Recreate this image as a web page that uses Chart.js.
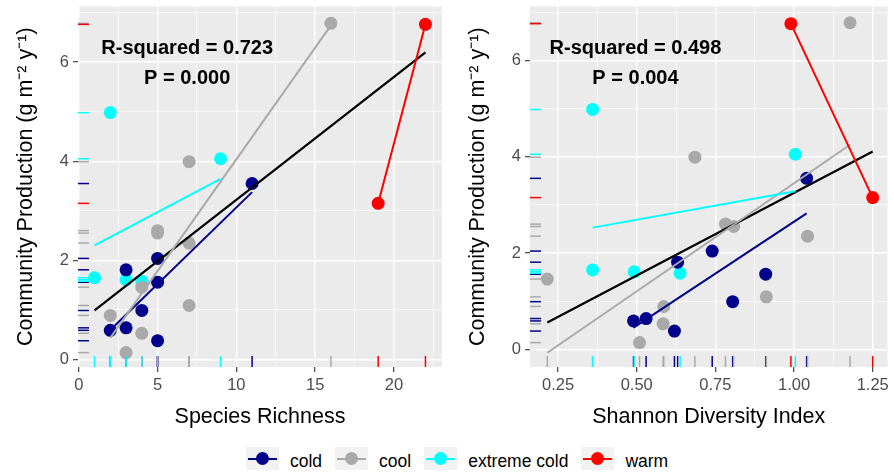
<!DOCTYPE html>
<html><head><meta charset="utf-8">
<script src="https://cdn.jsdelivr.net/npm/chart.js@4"></script>
<style>
html,body{margin:0;padding:0;background:#fff;}
#wrap{position:relative;width:894px;height:475px;overflow:hidden;font-family:'Liberation Sans',Arial,sans-serif;}
#left{position:absolute;left:0;top:0;width:450px;height:440px;}
#right{position:absolute;left:450px;top:0;width:444px;height:440px;}
#legend{position:absolute;left:246px;top:447px;display:flex;align-items:center;height:23px;}
.key{position:relative;width:33px;height:23px;background:#F2F2F2;margin-right:11px;flex:none;}
.key .ln{position:absolute;left:2px;right:2px;top:11px;height:2px;}
.key .pt{position:absolute;left:10px;top:5px;width:13px;height:13px;border-radius:50%;}
.lab{font-size:17.5px;color:#000;margin-right:13px;white-space:nowrap;position:relative;top:3px;}
</style></head>
<body>
<div id="wrap">
  <div id="left"><canvas id="c1"></canvas></div>
  <div id="right"><canvas id="c2"></canvas></div>
  <div id="legend"></div>
</div>
<script>
// ---------------- data ----------------
const groupNames = ['cold', 'cool', 'extreme cold', 'warm'];

const coldRichness   = [11, 5, 3, 5, 4, 3, 2, 5];
const coldShannon    = [1.04, 0.74, 0.63, 0.91, 0.805, 0.53, 0.49, 0.62];
const coldProduction = [3.55, 2.04, 1.81, 1.56, 0.99, 0.64, 0.59, 0.38];

const coolRichness   = [16, 7, 5, 5, 7, 4, 7, 2, 4, 3];
const coolShannon    = [1.178, 0.685, 0.782, 0.808, 1.043, 0.216, 0.912, 0.586, 0.584, 0.509];
const coolProduction = [6.78, 3.99, 2.6, 2.55, 2.35, 1.46, 1.09, 0.89, 0.53, 0.14];

const extremeColdRichness   = [2, 9, 1, 3, 4];
const extremeColdShannon    = [0.36, 1.004, 0.36, 0.492, 0.638];
const extremeColdProduction = [4.98, 4.05, 1.65, 1.61, 1.58];

const warmRichness   = [19, 22];
const warmShannon    = [1.25, 0.99];
const warmProduction = [3.15, 6.76];

const richnessTicks = [0, 5, 10, 15, 20];
const shannonTicks  = [0.25, 0.50, 0.75, 1.00, 1.25];
const productionTicks = [0, 2, 4, 6];

const statsRichness = ['R-squared = 0.723', 'P = 0.000'];
const statsShannon  = ['R-squared = 0.498', 'P = 0.004'];

const xTitleRichness = 'Species Richness';
const xTitleShannon  = 'Shannon Diversity Index';
const yTitle = 'Community Production (g m\u207B\u00B2 y\u207B\u00B9)';

// ---------------- styles ----------------
const groupColors = ['#00008B', '#A9A9A9', '#00FFFF', '#FF0000'];
const FONT = "'Liberation Sans', Arial, sans-serif";

const groupsRichness = [
  {x: coldRichness, y: coldProduction},
  {x: coolRichness, y: coolProduction},
  {x: extremeColdRichness, y: extremeColdProduction},
  {x: warmRichness, y: warmProduction}
];
const groupsShannon = [
  {x: coldShannon, y: coldProduction},
  {x: coolShannon, y: coolProduction},
  {x: extremeColdShannon, y: extremeColdProduction},
  {x: warmShannon, y: warmProduction}
];

function lmLine(xs, ys) {
  const n = xs.length;
  const mx = xs.reduce((a, b) => a + b, 0) / n;
  const my = ys.reduce((a, b) => a + b, 0) / n;
  let sxy = 0, sxx = 0;
  for (let i = 0; i < n; i++) { sxy += (xs[i] - mx) * (ys[i] - my); sxx += (xs[i] - mx) ** 2; }
  const b = sxy / sxx, a = my - b * mx;
  const x0 = Math.min(...xs), x1 = Math.max(...xs);
  return [{x: x0, y: a + b * x0}, {x: x1, y: a + b * x1}];
}

function buildDatasets(groups) {
  const ds = [];
  groups.forEach((g, i) => {
    ds.push({
      type: 'scatter', label: groupNames[i],
      data: g.x.map((v, k) => ({x: v, y: g.y[k]})),
      backgroundColor: groupColors[i], borderWidth: 0,
      pointRadius: 6.5, pointHoverRadius: 6.5, order: 10
    });
  });
  const allX = [].concat(...groups.map(g => g.x));
  const allY = [].concat(...groups.map(g => g.y));
  ds.push({
    type: 'scatter', label: 'all', data: lmLine(allX, allY), showLine: true,
    borderColor: '#000000', borderWidth: 2.2, pointRadius: 0, order: 6
  });
  groups.forEach((g, i) => {
    ds.push({
      type: 'scatter', label: groupNames[i] + ' fit', data: lmLine(g.x, g.y), showLine: true,
      borderColor: groupColors[i], borderWidth: 2, pointRadius: 0, order: 5 - i
    });
  });
  return ds;
}

const bgPlugin = {
  id: 'bg',
  beforeDraw(chart) {
    const {ctx, chartArea: a} = chart;
    ctx.save(); ctx.fillStyle = '#EBEBEB';
    ctx.fillRect(a.left, a.top, a.right - a.left, a.bottom - a.top);
    ctx.restore();
  }
};

function rugPlugin(groups) {
  return {
    id: 'rug',
    afterDatasetsDraw(chart) {
      const {ctx, chartArea: a, scales} = chart;
      ctx.save(); ctx.lineWidth = 1.5;
      groups.forEach((g, i) => {
        ctx.strokeStyle = groupColors[i];
        g.x.forEach(v => {
          const px = scales.x.getPixelForValue(v);
          ctx.beginPath(); ctx.moveTo(px, a.bottom); ctx.lineTo(px, a.bottom - 11); ctx.stroke();
        });
        g.y.forEach(v => {
          const py = scales.y.getPixelForValue(v);
          ctx.beginPath(); ctx.moveTo(a.left, py); ctx.lineTo(a.left + 11, py); ctx.stroke();
        });
      });
      ctx.restore();
    }
  };
}

function textPlugin(lines, fx, fy) {
  return {
    id: 'stats',
    afterDraw(chart) {
      const {ctx, chartArea: a} = chart;
      ctx.save();
      ctx.font = 'bold 20px ' + FONT;
      ctx.fillStyle = '#000'; ctx.textAlign = 'center'; ctx.textBaseline = 'middle';
      const cx = a.left + fx * (a.right - a.left);
      lines.forEach((t, i) => ctx.fillText(t, cx, a.top + fy + i * 30));
      ctx.restore();
    }
  };
}

function makeChart(id, groups, cfg) {
  const isMajorX = v => cfg.xMajor.some(m => Math.abs(m - v) < 1e-9);
  const isMajorY = v => productionTicks.some(m => Math.abs(m - v) < 1e-9);
  return new Chart(document.getElementById(id), {
    type: 'scatter',
    data: {datasets: buildDatasets(groups)},
    options: {
      responsive: true, maintainAspectRatio: false, animation: false, events: [],
      layout: {padding: {left: 0, right: cfg.padRight, top: 5, bottom: 0}},
      plugins: {legend: {display: false}, tooltip: {enabled: false}},
      scales: {
        x: {
          type: 'linear', min: cfg.xMin, max: cfg.xMax,
          afterBuildTicks: s => { s.ticks = cfg.xMajor.concat(cfg.xMinor).sort((a, b) => a - b).map(v => ({value: v})); },
          afterFit: s => { s.height = 73; s.paddingLeft = 0; s.paddingRight = 0; },
          border: {display: false},
          grid: {
            color: '#FFFFFF',
            lineWidth: c => isMajorX(c.tick.value) ? 1.4 : 0.7,
            tickColor: c => isMajorX(c.tick.value) ? '#333333' : 'rgba(0,0,0,0)',
            tickWidth: 1.1, tickLength: 5, drawTicks: true
          },
          ticks: {
            autoSkip: false, maxRotation: 0, padding: 4, color: '#4D4D4D',
            font: {family: FONT, size: 16.5},
            callback: v => isMajorX(v) ? cfg.fmt(v) : ''
          },
          title: {display: true, text: cfg.xTitle, color: '#000', font: {family: FONT, size: 21.5}, padding: {top: 0, bottom: 10}}
        },
        y: {
          type: 'linear', min: cfg.yMin, max: cfg.yMax,
          afterBuildTicks: s => { s.ticks = [0, 1, 2, 3, 4, 5, 6, 7].map(v => ({value: v})); },
          afterFit: s => { s.width = cfg.yWidth; s.paddingTop = 0; s.paddingBottom = 0; },
          border: {display: false},
          grid: {
            color: '#FFFFFF',
            lineWidth: c => isMajorY(c.tick.value) ? 1.4 : 0.7,
            tickColor: c => isMajorY(c.tick.value) ? '#333333' : 'rgba(0,0,0,0)',
            tickWidth: 1.1, tickLength: 5, drawTicks: true
          },
          ticks: {
            autoSkip: false, padding: 4, color: '#4D4D4D',
            font: {family: FONT, size: 16.5},
            callback: v => isMajorY(v) ? String(v) : ''
          },
          title: {display: true, text: yTitle, color: '#000', font: {family: FONT, size: 21.5}, padding: {top: cfg.yTitlePad}}
        }
      }
    },
    plugins: [bgPlugin, rugPlugin(groups), textPlugin(cfg.stats, cfg.textFx, 42)]
  });
}

makeChart('c1', groupsRichness, {
  xMin: -0.05, xMax: 23.05, xMajor: richnessTicks, xMinor: [2.5, 7.5, 12.5, 17.5, 22.5],
  yMin: -0.15, yMax: 7.12, yWidth: 78, padRight: 8, yTitlePad: 13,
  fmt: v => String(v), xTitle: xTitleRichness, stats: statsRichness, textFx: 0.3
});
makeChart('c2', groupsShannon, {
  xMin: 0.161, xMax: 1.297, xMajor: shannonTicks, xMinor: [0.375, 0.625, 0.875, 1.125],
  yMin: -0.366, yMax: 7.117, yWidth: 80, padRight: 1, yTitlePad: 15,
  fmt: v => v.toFixed(2), xTitle: xTitleShannon, stats: statsShannon, textFx: 0.295
});

// legend (HTML)
const lg = document.getElementById('legend');
groupNames.forEach((n, i) => {
  const k = document.createElement('div'); k.className = 'key';
  k.innerHTML = '<div class="ln" style="background:' + groupColors[i] + '"></div><div class="pt" style="background:' + groupColors[i] + '"></div>';
  const l = document.createElement('div'); l.className = 'lab'; l.textContent = n;
  lg.appendChild(k); lg.appendChild(l);
});
</script>
</body></html>
